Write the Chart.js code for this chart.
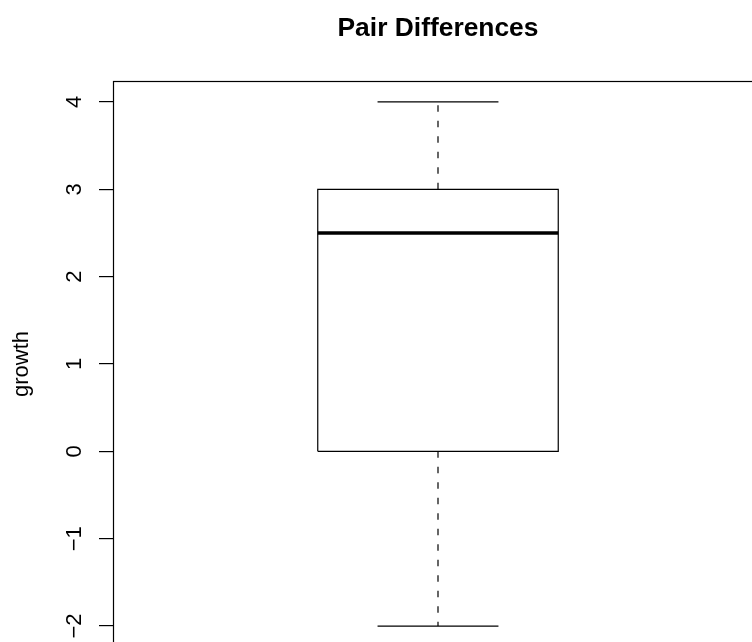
<!DOCTYPE html>
<html>
<head>
<meta charset="utf-8">
<script src="https://cdn.jsdelivr.net/npm/chart.js@4/dist/chart.umd.min.js"></script>
<style>
  html,body{margin:0;padding:0;background:#fff;}
  #wrap{width:752px;height:642px;overflow:hidden;position:relative;}
  canvas{display:block;}
</style>
</head>
<body>
<div id="wrap"><canvas id="chart" width="876" height="700"></canvas></div>
<script>
// ---------------- Dados ----------------
const groupPositions = [1];
const lowerWhisker = [-2];
const lowerHinge = [0];
const medianValues = [2.5];
const upperHinge = [3];
const upperWhisker = [4];
const yTickValues = [-2, -1, 0, 1, 2, 3, 4];

const FONT = '"Liberation Sans", Arial, Helvetica, sans-serif';
const boxHalf = 0.185;
const capHalf = 0.093;

function seg(points, extra){
  return Object.assign({
    data: points, showLine: true, pointRadius: 0, pointHoverRadius: 0,
    borderColor: '#000', borderWidth: 1.2, tension: 0, fill: false
  }, extra||{});
}

const datasets = [];
groupPositions.forEach((x,i)=>{
  // caixa
  datasets.push(seg([
    {x:x-boxHalf, y:lowerHinge[i]}, {x:x+boxHalf, y:lowerHinge[i]},
    {x:x+boxHalf, y:upperHinge[i]}, {x:x-boxHalf, y:upperHinge[i]},
    {x:x-boxHalf, y:lowerHinge[i]}
  ]));
  // mediana
  datasets.push(seg([{x:x-boxHalf, y:medianValues[i]}, {x:x+boxHalf, y:medianValues[i]}], {borderWidth:3.5, borderCapStyle:'butt'}));
  // bigodes
  datasets.push(seg([{x:x, y:lowerHinge[i]}, {x:x, y:lowerWhisker[i]}], {borderDash:[6.5,9]}));
  datasets.push(seg([{x:x, y:upperHinge[i]}, {x:x, y:upperWhisker[i]}], {borderDash:[6.5,9]}));
  // extremos
  datasets.push(seg([{x:x-capHalf, y:lowerWhisker[i]}, {x:x+capHalf, y:lowerWhisker[i]}]));
  datasets.push(seg([{x:x-capHalf, y:upperWhisker[i]}, {x:x+capHalf, y:upperWhisker[i]}]));
});

const framePlugin = {
  id: 'frame',
  afterDraw(chart){
    const {ctx, chartArea:a} = chart;
    ctx.save();
    ctx.strokeStyle = '#000';
    ctx.lineWidth = 1.2;
    ctx.strokeRect(Math.round(a.left)+0.5, Math.round(a.top)+0.5, Math.round(a.right-a.left), Math.round(a.bottom-a.top));
    ctx.restore();
  }
};

const yMin = Math.min(...lowerWhisker), yMax = Math.max(...upperWhisker);
const yPad = (yMax - yMin) * 0.04;

new Chart(document.getElementById('chart').getContext('2d'), {
  type: 'scatter',
  data: { datasets },
  plugins: [framePlugin],
  options: {
    responsive: false,
    animation: false,
    devicePixelRatio: 1,
    layout: { padding: { left: 0, right: 0, top: 0, bottom: 53 } },
    plugins: {
      legend: { display: false },
      tooltip: { enabled: false },
      title: {
        display: true,
        text: 'Pair Differences',
        color: '#000',
        font: { family: FONT, size: 26.4, weight: 'bold' },
        padding: { top: 12.5, bottom: 36.8 }
      }
    },
    scales: {
      x: { type: 'linear', min: 0.5, max: 1.5, display: false },
      y: {
        type: 'linear',
        min: yMin - yPad,
        max: yMax + yPad,
        afterBuildTicks: s => { s.ticks = yTickValues.map(v => ({ value: v })); },
        afterFit: s => { s.width = 113; },
        border: { display: false },
        grid: { drawOnChartArea: false, drawTicks: true, tickLength: 14, color: '#000', lineWidth: 1.2 },
        ticks: {
          color: '#000',
          font: { family: FONT, size: 22 },
          minRotation: 90, maxRotation: 90,
          crossAlign: 'center',
          padding: 12,
          autoSkip: false,
          callback: v => v < 0 ? '\u2212' + Math.abs(v) : String(v)
        },
        title: {
          display: true,
          text: 'growth',
          color: '#000',
          font: { family: FONT, size: 22 },
          padding: { top: 8.3, bottom: 0 }
        }
      },
      // margem direita vazia (como no R)
      yRight: {
        type: 'linear',
        position: 'right',
        display: true,
        afterFit: s => { s.width = 113; },
        border: { display: false },
        grid: { display: false },
        ticks: { display: false }
      }
    }
  }
});
</script>
</body>
</html>
